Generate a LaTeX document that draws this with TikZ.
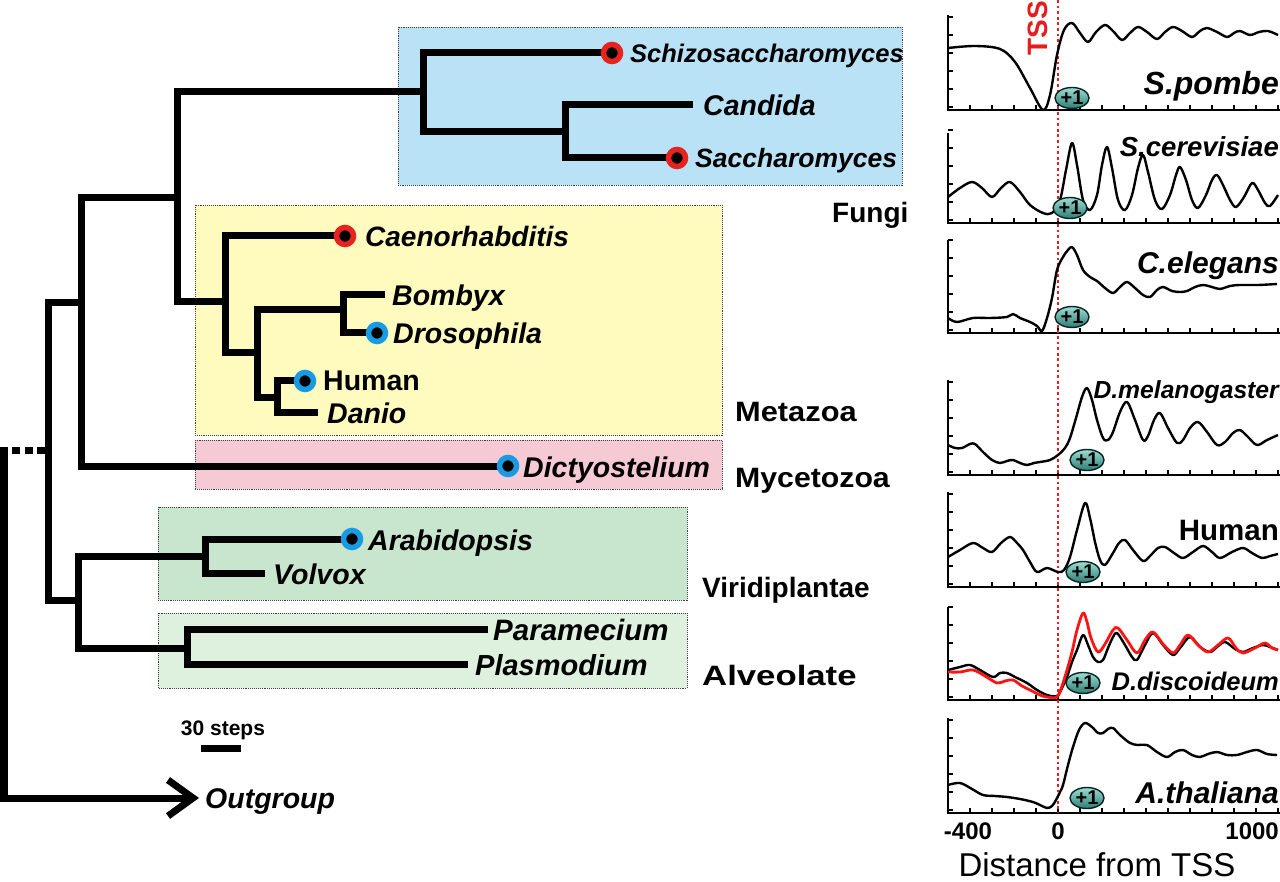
\documentclass[tikz,border=0pt]{standalone}
\usepackage{fontspec}
\setmainfont{Liberation Sans}
\usetikzlibrary{arrows.meta,shapes.geometric}
\definecolor{cfungi}{RGB}{186,226,246}
\definecolor{cmeta}{RGB}{255,251,190}
\definecolor{cmyce}{RGB}{246,202,212}
\definecolor{cviri}{RGB}{200,230,206}
\definecolor{calve}{RGB}{222,241,222}
\definecolor{dotred}{RGB}{230,35,30}
\definecolor{dotblue}{RGB}{25,155,228}
\definecolor{tssred}{RGB}{228,30,30}
\definecolor{plotred}{RGB}{255,20,20}
\definecolor{badgetop}{RGB}{160,220,210}
\definecolor{badgebot}{RGB}{45,125,115}
\newcommand{\plotframe}[2]{%
  \draw[axisline] (948,#1) -- (948,#2) -- (1280,#2);
  \foreach \k in {0,...,5} \draw[tickline] (948,{#2-3-\k*18}) -- ++(5,0);
  \foreach \k in {1,...,15} \draw[tickline] ({948+\k*22},#2) -- ++(0,-5);
}
\begin{document}
\begin{tikzpicture}[x=1pt,y=-1pt,
  branch/.style={line width=7pt, line join=miter, line cap=butt},
  grpbox/.style={draw=black!75, densely dotted, line width=0.9pt},
  tipR/.style={circle, fill=black, draw=dotred, line width=5.5pt, minimum size=17pt, inner sep=0pt},
  tipB/.style={tipR, draw=dotblue},
  sp/.style={anchor=base west, inner sep=0pt, font=\fontsize{28.5}{32}\selectfont\bfseries\itshape},
  grp/.style={anchor=base west, inner sep=0pt, font=\fontsize{28}{32}\selectfont\bfseries},
  plab/.style={anchor=base east, inner sep=0pt},
  axisline/.style={line width=2pt},
  tickline/.style={line width=1.8pt},
  curve/.style={line width=2.4pt, line join=round, smooth, tension=0.55},
  badge/.style={ellipse, minimum width=34pt, minimum height=21pt, inner sep=0pt,
    draw=black!70!teal, line width=1.4pt, top color=badgetop, bottom color=badgebot,
    font=\fontsize{20}{20}\selectfont\bfseries},
  ticklab/.style={font=\fontsize{24}{26}\selectfont\bfseries, inner sep=0pt}
]
\useasboundingbox[fill=white] (0,0) rectangle (1280,882);

% ---------- group boxes ----------
\path[grpbox, fill=cfungi] (398,27) rectangle (902,185);
\path[grpbox, fill=cmeta]  (195,205) rectangle (722,435);
\path[grpbox, fill=cmyce]  (195,440) rectangle (722,489);
\path[grpbox, fill=cviri]  (158,507) rectangle (687,600);
\path[grpbox, fill=calve]  (158,613) rectangle (687,688);

% ---------- tree coordinates ----------
\coordinate (R) at (4,450);
\coordinate (A) at (48,450);
\coordinate (B) at (81,303);
\coordinate (V) at (78,600);
\coordinate (FM) at (177,198);
\coordinate (F) at (423,92);
\coordinate (FC) at (565,132);
\coordinate (M) at (225,302);
\coordinate (M2) at (257,353);
\coordinate (M3) at (343,310);
\coordinate (M4) at (277,398);
\coordinate (Vi) at (205,556);
\coordinate (Al) at (187,648);
\coordinate (tSchizo) at (612,53);
\coordinate (tCand) at (693,105);
\coordinate (tSacch) at (677,158);
\coordinate (tCaeno) at (345,236);
\coordinate (tBomb) at (385,295);
\coordinate (tDros) at (377,333);
\coordinate (tHum) at (305,381);
\coordinate (tDan) at (318,413);
\coordinate (tDict) at (508,466);
\coordinate (tArab) at (352,539);
\coordinate (tVolv) at (265,573);
\coordinate (tPara) at (488,629);
\coordinate (tPlas) at (468,664);
\coordinate (ogtip) at (199,798);

% ---------- branches ----------
\draw[branch] (A) |- (B);
\draw[branch] (A) |- (V);
\draw[branch] (B) |- (FM);
\draw[branch] (B) |- (tDict);
\draw[branch] (FM) |- (F);
\draw[branch] (FM) |- (M);
\draw[branch] (F) |- (tSchizo);
\draw[branch] (F) |- (FC);
\draw[branch] (FC) |- (tCand);
\draw[branch] (FC) |- (tSacch);
\draw[branch] (M) |- (tCaeno);
\draw[branch] (M) |- (M2);
\draw[branch] (M2) |- (M3);
\draw[branch] (M2) |- (M4);
\draw[branch] (M3) |- (tBomb);
\draw[branch] (M3) |- (tDros);
\draw[branch] (M4) |- (tHum);
\draw[branch] (M4) |- (tDan);
\draw[branch] (V) |- (Vi);
\draw[branch] (V) |- (Al);
\draw[branch] (Vi) |- (tArab);
\draw[branch] (Vi) |- (tVolv);
\draw[branch] (Al) |- (tPara);
\draw[branch] (Al) |- (tPlas);
\draw[branch, dash pattern=on 3.5pt off 4.5pt on 8pt off 4.5pt on 8pt off 4.5pt on 14pt] (R) -- (A);
\draw[branch, -{Straight Barb[length=25pt,width=36pt]}] ([yshift=3.5pt]R) |- (ogtip);

% ---------- tip dots ----------
\node[tipR] (dSchizo) at (tSchizo) {};
\node[tipR] (dSacch) at (tSacch) {};
\node[tipR] (dCaeno) at (tCaeno) {};
\node[tipB] (dDros) at (tDros) {};
\node[tipB] (dHum) at (tHum) {};
\node[tipB] (dDict) at (tDict) {};
\node[tipB] (dArab) at (tArab) {};

% ---------- species labels ----------
\node[sp, font=\fontsize{25.5}{30}\selectfont\bfseries\itshape] (nSchizo) at (630,63) {Schizosaccharomyces};
\node[sp] (nCand) at (703,116) {Candida};
\node[sp, font=\fontsize{26.5}{30}\selectfont\bfseries\itshape] (nSacch) at (695,168) {Saccharomyces};
\node[sp, font=\fontsize{28}{30}\selectfont\bfseries\itshape] (nCaeno) at (365,247) {Caenorhabditis};
\node[sp] (nBomb) at (392,306) {Bombyx};
\node[sp] (nDros) at (393,344) {Drosophila};
\node[sp, font=\fontsize{28.5}{32}\selectfont\bfseries] (nHum) at (323,391) {Human};
\node[sp] (nDan) at (327,424) {Danio};
\node[sp] (nDict) at (523,477) {Dictyostelium};
\node[sp] (nArab) at (368,550) {Arabidopsis};
\node[sp] (nVolv) at (273,584) {Volvox};
\node[sp, font=\fontsize{29.5}{32}\selectfont\bfseries\itshape] (nPara) at (493,640) {Paramecium};
\node[sp, font=\fontsize{29}{32}\selectfont\bfseries\itshape] (nPlas) at (475,675) {Plasmodium};
\node[sp] (og) at (205,808) {Outgroup};

% ---------- group labels ----------
\node[grp] (gF) at (832,223) {Fungi};
\node[grp] (gM) at (735,422) {\scalebox{1.1}[1]{Metazoa}};
\node[grp] (gMy) at (735,487) {\scalebox{1.08}[1]{Mycetozoa}};
\node[grp] (gV) at (702,597) {Viridiplantae};
\node[grp] (gA) at (702,685) {\scalebox{1.24}[1]{Alveolate}};

% ---------- scale bar ----------
\coordinate (sbL) at (201,748);
\coordinate (sbR) at (241,748);
\draw[line width=7pt] (sbL) -- (sbR);
\node[anchor=base, inner sep=0pt, font=\fontsize{21}{24}\selectfont\bfseries] (sbt) at (223,735) {30 steps};

% ---------- right panel: frames ----------
\plotframe{15}{110}
\plotframe{133}{223}
\plotframe{240}{333}
\plotframe{380}{475}
\plotframe{492}{587}
\plotframe{607}{700}
\plotframe{718}{813}

% TSS line
\coordinate (tssT) at (1058,0);
\coordinate (tssB) at (1058,813);
\draw[tssred, line width=2.8pt, dash pattern=on 2.8pt off 2.8pt] (tssT) -- (tssB);
\node[rotate=90, text=tssred, inner sep=0pt, font=\fontsize{28}{28}\selectfont\bfseries] (tss) at (1038,28) {TSS};

% ---------- curves ----------
% S.pombe
\draw[curve] plot coordinates {(948,48) (975,46) (1000,49) (1015,62) (1030,88) (1043,110) (1050,95) (1057,55) (1064,30) (1072,23) (1080,33) (1088,42) (1096,32) (1105,25) (1113,31) (1122,40) (1130,33) (1138,27) (1147,32) (1157,39) (1165,32) (1173,27) (1182,31) (1192,37) (1200,31) (1207,28) (1217,32) (1227,37) (1234,33) (1240,31) (1250,35) (1259,32) (1268,31) (1278,35)};
% S.cerevisiae
\draw[curve] plot coordinates {(948,197) (960,188) (972,182) (982,188) (992,197) (1001,188) (1010,182) (1020,192) (1030,205) (1043,213) (1052,213) (1060,200) (1066,170) (1072,143) (1077,165) (1083,200) (1090,210) (1097,195) (1102,165) (1107,147) (1112,168) (1118,200) (1125,210) (1132,195) (1138,168) (1143,155) (1148,172) (1155,200) (1162,209) (1170,195) (1176,175) (1180,167) (1186,180) (1192,200) (1198,208) (1206,195) (1212,180) (1217,175) (1223,185) (1230,200) (1236,207) (1244,197) (1252,183) (1258,190) (1265,203) (1270,206) (1278,195)};
% C.elegans
\draw[curve] plot coordinates {(948,318) (957,322) (973,318) (990,318) (1007,317) (1013,314) (1020,318) (1030,322) (1037,326) (1042,331) (1047,318) (1052,298) (1057,270) (1063,257) (1068,250) (1072,247) (1077,255) (1083,270) (1090,277) (1097,281) (1105,288) (1113,293) (1120,287) (1127,282) (1135,288) (1143,295) (1150,297) (1157,290) (1163,287) (1172,291) (1180,292) (1187,291) (1195,287) (1203,285) (1212,287) (1220,289) (1230,286) (1240,285) (1258,285) (1277,284)};
% D.melanogaster
\draw[curve] plot coordinates {(948,445) (955,448) (962,448) (970,444) (975,444) (983,452) (992,460) (1000,463) (1007,461) (1013,460) (1020,463) (1027,465) (1034,463) (1040,462) (1050,460) (1058,455) (1065,448) (1070,438) (1076,418) (1082,397) (1087,388) (1092,400) (1097,420) (1103,438) (1108,440) (1113,432) (1120,412) (1127,402) (1135,420) (1143,440) (1148,436) (1154,420) (1160,413) (1168,428) (1177,443) (1183,440) (1190,428) (1198,422) (1207,432) (1217,445) (1225,442) (1233,433) (1240,430) (1248,437) (1257,445) (1267,440) (1278,435)};
% Human
\draw[curve] plot coordinates {(948,557) (960,550) (973,543) (983,548) (992,552) (1001,543) (1010,537) (1017,543) (1023,550) (1030,562) (1037,572) (1047,568) (1058,572) (1064,570) (1070,557) (1077,530) (1085,503) (1090,518) (1095,542) (1100,560) (1105,565) (1113,553) (1119,543) (1125,540) (1133,550) (1143,561) (1150,556) (1158,548) (1165,547) (1174,553) (1183,558) (1193,552) (1203,546) (1212,552) (1220,558) (1232,552) (1243,548) (1252,553) (1262,558) (1270,556) (1278,554)};
% D.discoideum black
\draw[curve] plot coordinates {(948,670) (960,667) (970,665) (980,670) (993,677) (1000,673) (1007,673) (1015,677) (1027,683) (1037,690) (1047,695) (1057,696) (1062,688) (1067,677) (1072,662) (1077,650) (1083,635) (1088,645) (1093,657) (1098,662) (1103,660) (1108,648) (1113,637) (1117,633) (1125,645) (1132,657) (1137,660) (1145,645) (1153,633) (1163,645) (1173,655) (1180,648) (1190,637) (1200,647) (1210,652) (1217,647) (1225,642) (1235,649) (1243,652) (1253,648) (1263,645) (1270,647) (1278,650)};
% D.discoideum red
\draw[curve, plotred, line width=2.8pt] plot coordinates {(948,672) (960,672) (973,670) (985,676) (997,683) (1005,681) (1013,680) (1022,686) (1030,690) (1040,695) (1047,697) (1057,697) (1062,686) (1067,670) (1072,652) (1077,630) (1083,613) (1087,622) (1091,638) (1098,652) (1105,644) (1113,630) (1118,628) (1127,640) (1137,653) (1145,640) (1153,632) (1163,644) (1173,653) (1180,645) (1188,635) (1198,645) (1208,652) (1218,645) (1228,638) (1236,648) (1243,653) (1255,648) (1265,643) (1272,648) (1278,650)};
% A.thaliana
\draw[curve] plot coordinates {(948,785) (960,783) (972,789) (983,795) (995,796) (1007,797) (1020,799) (1033,802) (1040,805) (1047,808) (1052,806) (1056,800) (1060,792) (1063,785) (1068,765) (1073,747) (1079,730) (1085,723) (1092,727) (1098,733) (1103,733) (1108,729) (1113,728) (1120,735) (1130,743) (1138,745) (1147,745) (1157,752) (1167,757) (1175,752) (1183,750) (1192,755) (1200,757) (1208,754) (1217,752) (1227,755) (1237,755) (1247,752) (1257,750) (1267,754) (1277,755)};

% ---------- +1 badges ----------
\node[badge] (b1) at (1072,98) {+1};
\node[badge] (b2) at (1070,208) {+1};
\node[badge] (b3) at (1072,317) {+1};
\node[badge] (b4) at (1087,460) {+1};
\node[badge] (b5) at (1083,572) {+1};
\node[badge] (b6) at (1083,683) {+1};
\node[badge] (b7) at (1087,798) {+1};

% ---------- plot labels ----------
\node[plab, font=\fontsize{32}{34}\selectfont\bfseries\itshape] (l1) at (1279,95) {S.pombe};
\node[plab, font=\fontsize{27.5}{30}\selectfont\bfseries\itshape] (l2) at (1279,157) {S.cerevisiae};
\node[plab, font=\fontsize{30}{32}\selectfont\bfseries\itshape] (l3) at (1279,274) {C.elegans};
\node[plab, font=\fontsize{24.7}{28}\selectfont\bfseries\itshape] (l4) at (1279,399) {D.melanogaster};
\node[plab, font=\fontsize{29.5}{32}\selectfont\bfseries] (l5) at (1279,540) {Human};
\node[plab, font=\fontsize{25.5}{28}\selectfont\bfseries\itshape] (l6) at (1279,690) {D.discoideum};
\node[plab, font=\fontsize{30}{32}\selectfont\bfseries\itshape] (l7) at (1279,803) {A.thaliana};

% ---------- axis labels ----------
\node[ticklab] (x1) at (968,831) {-400};
\node[ticklab] (x2) at (1058,831) {0};
\node[ticklab, anchor=east] (x3) at (1279,831) {1000};
\node[anchor=base, inner sep=0pt, font=\fontsize{33}{36}\selectfont] (xl) at (1097,876) {Distance from TSS};
\end{tikzpicture}
\end{document}
